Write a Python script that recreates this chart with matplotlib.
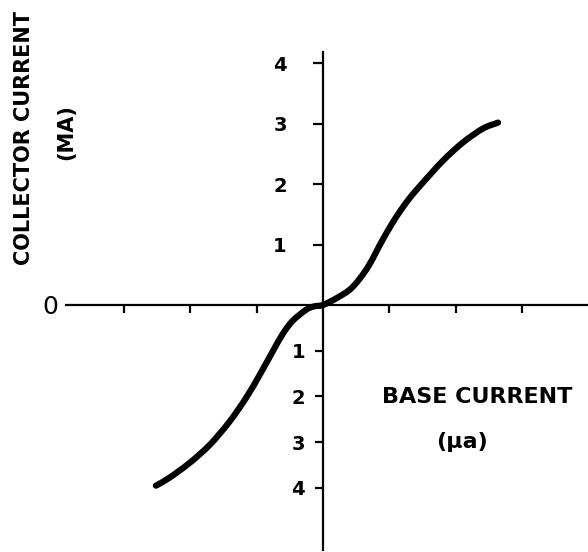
import matplotlib.pyplot as plt
import numpy as np
from matplotlib.path import Path
from matplotlib.patches import PathPatch

# Transfer curve: collector current (mA) vs base current (uA)
base_current = [-2.52, -2.32, -2.01, -1.71, -1.41, -1.16, -0.96, -0.76, -0.61, -0.46,
                -0.25, -0.13, 0.0, 0.2, 0.4, 0.55, 0.7, 0.9, 1.1, 1.3,
                1.51, 1.81, 2.11, 2.41, 2.64]
collector_current = [-3.95, -3.78, -3.45, -3.06, -2.55, -2.03, -1.54, -1.02, -0.64, -0.35,
                     -0.10, -0.03, 0.0, 0.11, 0.25, 0.43, 0.67, 1.08, 1.45, 1.76,
                     2.03, 2.39, 2.69, 2.92, 3.02]

x_ticks = [-3, -2, -1, 1, 2, 3]
y_ticks_pos = [1, 2, 3, 4]
y_ticks_neg = [-1, -2, -3, -4]

# the negative half of the current axis is drawn compressed
neg_factor = 0.7575


def fwd(y):
    y = np.asarray(y, dtype=float)
    return np.where(y < 0, y * neg_factor, y)


def inv(t):
    t = np.asarray(t, dtype=float)
    return np.where(t < 0, t / neg_factor, t)


def smooth_path(xs, ys):
    # Catmull-Rom through the points, as cubic Bezier segments in scaled space
    p = np.column_stack([xs, fwd(ys)])
    m = np.empty_like(p)
    m[1:-1] = (p[2:] - p[:-2]) / 2
    m[0] = p[1] - p[0]
    m[-1] = p[-1] - p[-2]
    verts = [p[0]]
    codes = [Path.MOVETO]
    for i in range(len(p) - 1):
        verts += [p[i] + m[i] / 3, p[i + 1] - m[i + 1] / 3, p[i + 1]]
        codes += [Path.CURVE4] * 3
    verts = np.array(verts)
    verts[:, 1] = inv(verts[:, 1])
    return Path(verts, codes)


fig = plt.figure(figsize=(5.88, 5.52), dpi=100)
ax = fig.add_axes([0, 0, 1, 1])
ax.set_yscale('function', functions=(fwd, inv))

ax.add_patch(PathPatch(smooth_path(base_current, collector_current), fill=False,
                       edgecolor='black', lw=4.5, capstyle='round', joinstyle='round'))

ax.set_xlim(-4.872, 3.997)
ax.set_ylim(-5.40, 5.05)

# axes through the origin
for side in ['top', 'right']:
    ax.spines[side].set_visible(False)
ax.spines['left'].set_position(('data', 0))
ax.spines['bottom'].set_position(('data', 0))
ax.spines['left'].set_bounds(-5.35, 4.19)
ax.spines['bottom'].set_bounds(-3.87, 4.0)
for side in ['left', 'bottom']:
    ax.spines[side].set_linewidth(1.6)

ax.set_xticks(x_ticks)
ax.set_xticklabels([])
ax.tick_params(axis='x', direction='out', length=6, width=1.6)

ax.set_yticks(y_ticks_pos)
ax.set_yticklabels([str(v) for v in y_ticks_pos])
ax.set_yticks(y_ticks_neg, minor=True)
ax.set_yticklabels([str(abs(v)) for v in y_ticks_neg], minor=True)
ax.tick_params(axis='y', which='major', direction='out', length=7, width=1.6, pad=19)
ax.tick_params(axis='y', which='minor', direction='out', length=6, width=1.6, pad=7)
for lab in ax.get_yticklabels(which='both'):
    lab.set_fontsize(14)
    lab.set_fontweight('bold')

W, H = 588, 552
fig.text(50 / W, 1 - 307 / H, '0', fontsize=18, ha='center', va='center')
fig.text(24 / W, 1 - 138 / H, 'COLLECTOR CURRENT', rotation=90, fontsize=15,
         fontweight='bold', ha='center', va='center')
fig.text(66 / W, 1 - 132 / H, '(MA)', rotation=90, fontsize=15,
         fontweight='bold', ha='center', va='center')
fig.text(382 / W, 1 - 397 / H, 'BASE CURRENT', fontsize=16,
         fontweight='bold', ha='left', va='center')
fig.text(462 / W, 1 - 442 / H, '(µa)', fontsize=16,
         fontweight='bold', ha='center', va='center')

fig.savefig('out.png', dpi=100)
